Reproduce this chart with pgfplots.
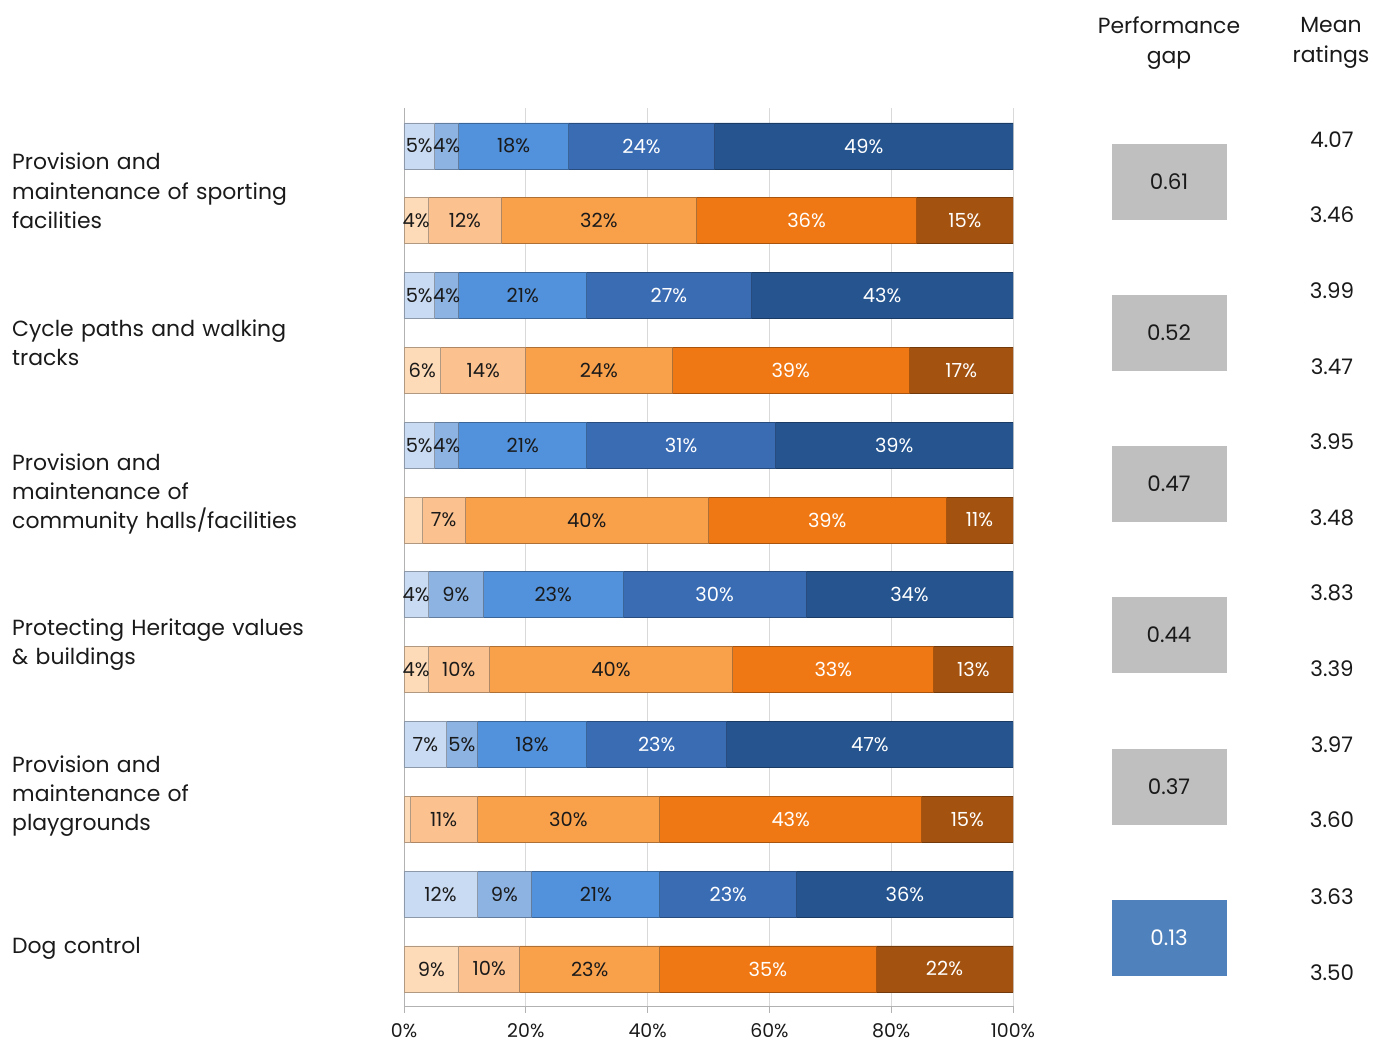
\documentclass[border=0pt]{standalone}
\usepackage{pgfplots}
\pgfplotsset{compat=1.18}
\usepackage{pgfplotstable}
\usepackage{fontspec}
\setmainfont{Poppins}

\definecolor{b1}{HTML}{C9DBF2}
\definecolor{b2}{HTML}{8DB3E2}
\definecolor{b3}{HTML}{5291DB}
\definecolor{b4}{HTML}{3A6CB4}
\definecolor{b5}{HTML}{25548F}
\definecolor{o1}{HTML}{FDDAB8}
\definecolor{o2}{HTML}{FBC18F}
\definecolor{o3}{HTML}{F9A04B}
\definecolor{o4}{HTML}{F07814}
\definecolor{o5}{HTML}{A3520F}
\definecolor{gapgray}{HTML}{BFBFBF}
\definecolor{gapblue}{HTML}{4F81BD}
\definecolor{txt}{HTML}{1A1A1A}

% importance (blue) rows
\pgfplotstableread{
y v1 v2 v3 v4 v5 l1 l2 l3 l4 l5
-1 5 4 18 24 49 5\% 4\% 18\% 24\% 49\%
-3 5 4 21 27 43 5\% 4\% 21\% 27\% 43\%
-5 5 4 21 31 39 5\% 4\% 21\% 31\% 39\%
-7 4 9 23 30 34 4\% 9\% 23\% 30\% 34\%
-9 7 5 18 23 47 7\% 5\% 18\% 23\% 47\%
-11 12 9 21 22.5 35.5 12\% 9\% 21\% 23\% 36\%
}\bluedata

% performance (orange) rows
\pgfplotstableread{
y v1 v2 v3 v4 v5 l1 l2 l3 l4 l5
-2 4 12 32 36.2 15.8 4\% 12\% 32\% 36\% 15\%
-4 6 14 24 39 17 6\% 14\% 24\% 39\% 17\%
-6 3 7 40 39 11 {} 7\% 40\% 39\% 11\%
-8 4 10 40 33 13 4\% 10\% 40\% 33\% 13\%
-10 1 11 30 43 15 {} 11\% 30\% 43\% 15\%
-12 9 10 23 35.5 22.5 9\% 10\% 23\% 35\% 22\%
}\orangedata

\begin{document}
\begin{tikzpicture}
\useasboundingbox (0,0) rectangle (1373bp,1044bp);
\pgfplotsset{
  common/.style={scale only axis, width=609bp, height=898bp,
    xmin=0, xmax=100, ymin=-12.495, ymax=-0.492,
    at={(404bp,38bp)}, anchor=south west},
  seglab/.style={draw=none, mark=none, nodes near coords,
    point meta=explicit symbolic,
    every node near coord/.append style={anchor=center, inner sep=0pt,
      font=\fontsize{19.5}{22}\selectfont, text=#1}},
  bev/.style={fill=#1, draw=#1!70!black, line width=0.8bp},
}
% axis 1: frame, grid, ticks, blue bars
\begin{axis}[common, xbar stacked, bar width=46bp,
  axis x line*=bottom, axis y line*=left,
  axis line style={-, draw=gray!60, line width=0.9bp},
  xtick={0,20,40,60,80,100},
  xticklabel={\pgfmathprintnumber{\tick}\%},
  /pgf/number format/assume math mode=true,
  xmajorgrids, major grid style={draw=gray!30, line width=0.9bp},
  tick align=outside, major tick length=7bp,
  xtick style={draw=gray!60, line width=0.9bp},
  xticklabel style={font=\fontsize{19}{21}\selectfont, text=txt, yshift=-7bp},
  ytick={-1.602,-3.627,-5.652,-7.664,-9.690,-11.722},
  yticklabels={{Provision and\\maintenance of sporting\\facilities},
               {Cycle paths and walking\\tracks},
               {Provision and\\maintenance of\\community halls/facilities},
               {Protecting Heritage values\\\& buildings},
               {Provision and\\maintenance of\\playgrounds},
               {Dog control}},
  ytick style={draw=none},
  yticklabel style={anchor=west, xshift=-385bp, text width=380bp,
    align=left, inner sep=0pt, text=txt,
    font=\fontsize{22}{29.5}\selectfont},
]
\addplot[bev=b1] table[x=v1, y=y] {\bluedata};
\addplot[bev=b2] table[x=v2, y=y] {\bluedata};
\addplot[bev=b3] table[x=v3, y=y] {\bluedata};
\addplot[bev=b4] table[x=v4, y=y] {\bluedata};
\addplot[bev=b5] table[x=v5, y=y] {\bluedata};
\end{axis}

% axis 2: orange bars
\begin{axis}[common, xbar stacked, bar width=46bp, hide axis]
\addplot[bev=o1] table[x=v1, y=y] {\orangedata};
\addplot[bev=o2] table[x=v2, y=y] {\orangedata};
\addplot[bev=o3] table[x=v3, y=y] {\orangedata};
\addplot[bev=o4] table[x=v4, y=y] {\orangedata};
\addplot[bev=o5] table[x=v5, y=y] {\orangedata};
\end{axis}

% axis 3: segment labels, centred in each segment
\begin{axis}[common, hide axis, clip=false]
\addplot[seglab=txt] table[x expr={\thisrow{v1}/2}, y=y, meta=l1] {\bluedata};
\addplot[seglab=txt] table[x expr={\thisrow{v1}+\thisrow{v2}/2}, y=y, meta=l2] {\bluedata};
\addplot[seglab=txt] table[x expr={\thisrow{v1}+\thisrow{v2}+\thisrow{v3}/2}, y=y, meta=l3] {\bluedata};
\addplot[seglab=white] table[x expr={\thisrow{v1}+\thisrow{v2}+\thisrow{v3}+\thisrow{v4}/2}, y=y, meta=l4] {\bluedata};
\addplot[seglab=white] table[x expr={\thisrow{v1}+\thisrow{v2}+\thisrow{v3}+\thisrow{v4}+\thisrow{v5}/2}, y=y, meta=l5] {\bluedata};
\addplot[seglab=txt] table[x expr={\thisrow{v1}/2}, y=y, meta=l1] {\orangedata};
\addplot[seglab=txt] table[x expr={\thisrow{v1}+\thisrow{v2}/2}, y=y, meta=l2] {\orangedata};
\addplot[seglab=txt] table[x expr={\thisrow{v1}+\thisrow{v2}+\thisrow{v3}/2}, y=y, meta=l3] {\orangedata};
\addplot[seglab=white] table[x expr={\thisrow{v1}+\thisrow{v2}+\thisrow{v3}+\thisrow{v4}/2}, y=y, meta=l4] {\orangedata};
\addplot[seglab=white] table[x expr={\thisrow{v1}+\thisrow{v2}+\thisrow{v3}+\thisrow{v4}+\thisrow{v5}/2}, y=y, meta=l5] {\orangedata};
\end{axis}

% axis 4: performance gap and mean ratings
\begin{axis}[scale only axis, width=293bp, height=898bp,
  xmin=0, xmax=293, ymin=-12.495, ymax=-0.492,
  at={(1080bp,38bp)}, anchor=south west, hide axis, clip=false]
\addplot[draw=none, mark=none, nodes near coords, point meta=explicit symbolic,
  every node near coord/.append style={anchor=center, fill=gapgray,
    minimum width=115bp, minimum height=76bp, inner sep=0pt, text=txt,
    font=\fontsize{21.5}{24}\selectfont}]
  coordinates {(89,-1.481) [0.61] (89,-3.5) [0.52] (89,-5.519) [0.47]
               (89,-7.537) [0.44] (89,-9.570) [0.37]};
\addplot[draw=none, mark=none, nodes near coords, point meta=explicit symbolic,
  every node near coord/.append style={anchor=center, fill=gapblue,
    minimum width=115bp, minimum height=76bp, inner sep=0pt, text=white,
    font=\fontsize{21.5}{24}\selectfont}]
  coordinates {(89,-11.588) [0.13]};
\addplot[draw=none, mark=none, nodes near coords, point meta=explicit symbolic,
  every node near coord/.append style={anchor=center, inner sep=0pt, text=txt,
    font=\fontsize{21.5}{24}\selectfont}]
  coordinates {(252,-0.920) [4.07] (252,-1.922) [3.46]
               (252,-2.939) [3.99] (252,-3.955) [3.47]
               (252,-4.957) [3.95] (252,-5.973) [3.48]
               (252,-6.976) [3.83] (252,-7.992) [3.39]
               (252,-9.008) [3.97] (252,-10.011) [3.60]
               (252,-11.027) [3.63] (252,-12.043) [3.50]};
\end{axis}

\node[align=center, text=txt, font=\fontsize{22}{30}\selectfont] at (1169bp,1001bp) {Performance\\gap};
\node[align=center, text=txt, font=\fontsize{22}{30}\selectfont] at (1331bp,1001bp) {Mean\\ratings};
\end{tikzpicture}
\end{document}
